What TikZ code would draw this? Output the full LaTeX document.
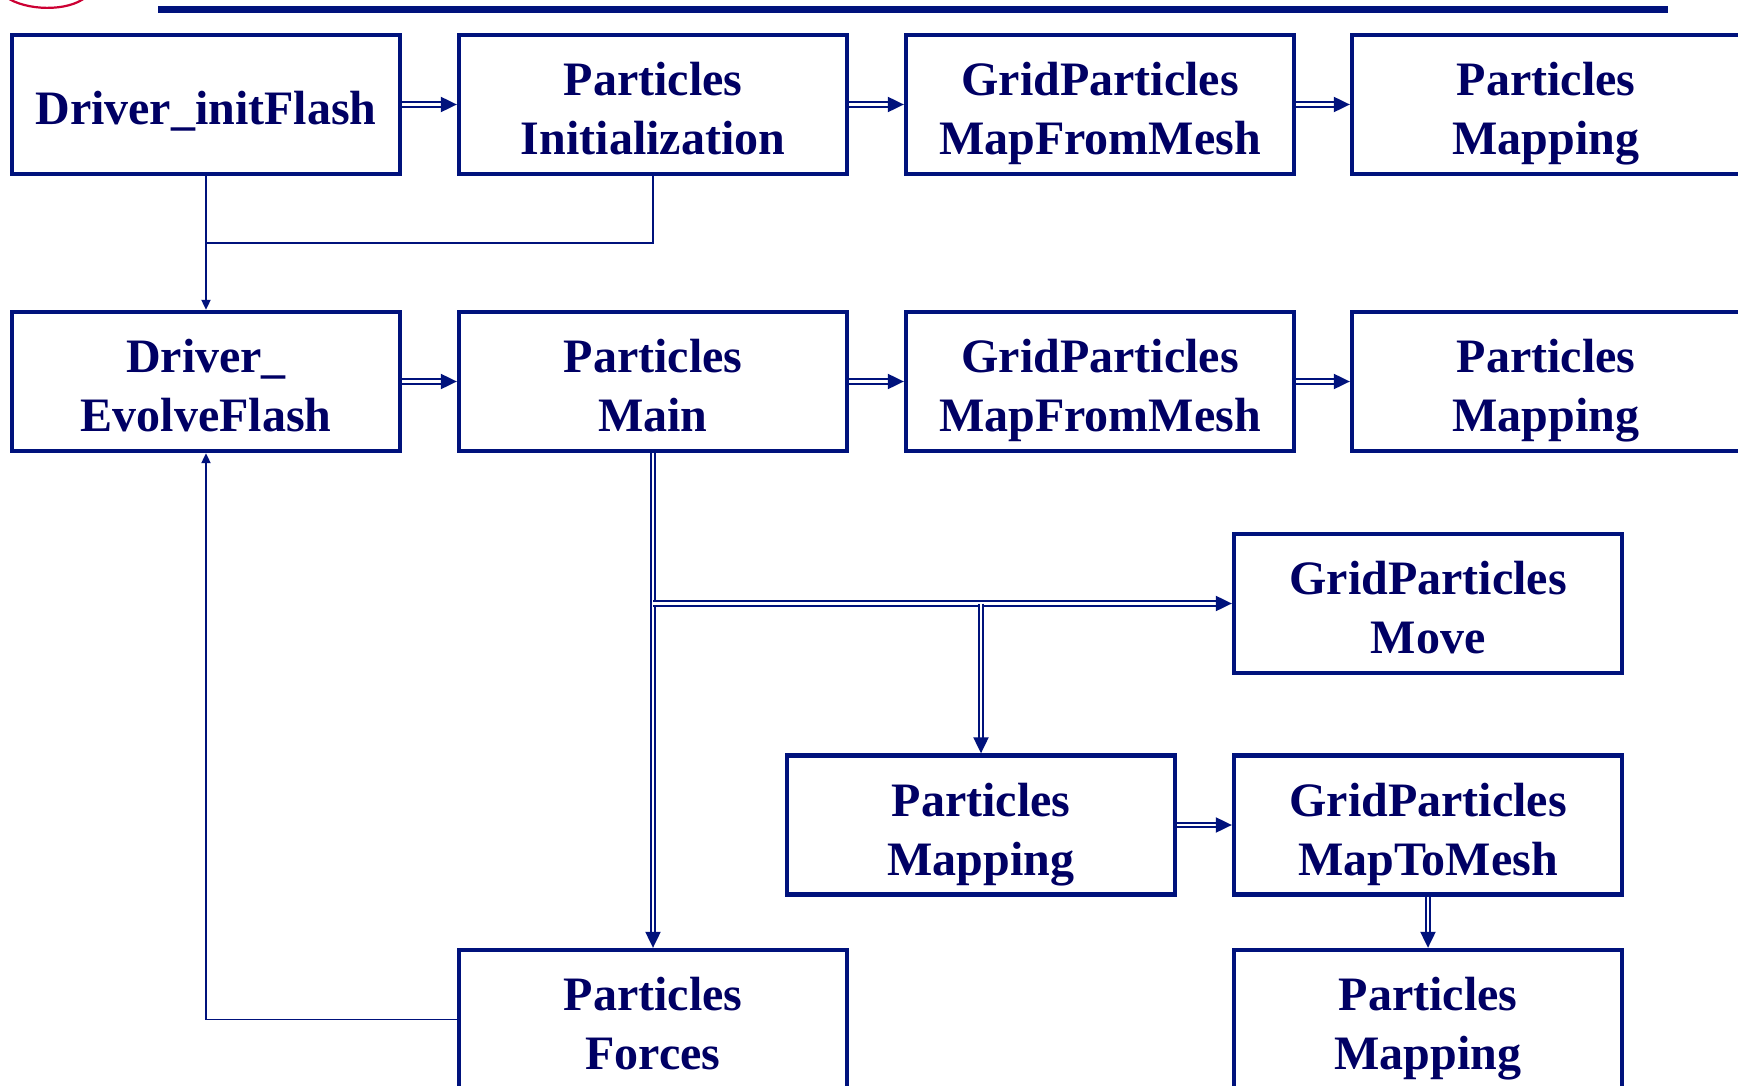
\documentclass[tikz,border=0pt]{standalone}
\usepackage{fontspec}
\setmainfont{Liberation Serif}
\usetikzlibrary{arrows.meta,calc}
\definecolor{navyline}{RGB}{0,18,124}
\definecolor{navytext}{RGB}{0,0,100}
\definecolor{redmark}{RGB}{204,0,51}
\tikzset{
  box/.style={draw=navyline, line width=4.3pt, minimum width=388pt, minimum height=139pt,
    inner sep=0pt, align=center, text=navytext, text height=110pt, text depth=10pt,
    font=\fontsize{48}{59}\selectfont\bfseries},
  onebox/.style={box, text height=41pt, text depth=0pt},
  dbl/.style={draw=navyline, double=white, double distance=2.8pt, line width=2pt,
    -{Triangle[length=16pt,width=15pt]}},
  sgl/.style={draw=navyline, line width=1.9pt},
  sglarrow/.style={sgl, -{Triangle[length=10pt,width=9pt]}}
}
\begin{document}
\begin{tikzpicture}[x=1pt,y=-1pt]
\useasboundingbox (0,0) rectangle (1738,1086);
\clip (0,0) rectangle (1738,1086);
\fill[white] (0,0) rectangle (1738,1086);
% decorations at top
\draw[redmark, line width=2.2pt] (6,-3) .. controls (26,11) and (68,12) .. (86,-3);
\draw[navyline, line width=7pt] (158,9.5) -- (1668,9.5);
% row 1
\node[onebox] (b1) at (206,104.5) {Driver\_initFlash};
\node[box] (b2) at (653,104.5) {Particles\\Initialization};
\node[box] (b3) at (1100,104.5) {GridParticles\\MapFromMesh};
\node[box] (b4) at (1546,104.5) {Particles\\Mapping};
% row 2
\node[box] (c1) at (206,381.5) {Driver\_\\EvolveFlash};
\node[box] (c2) at (653,381.5) {Particles\\Main};
\node[box] (c3) at (1100,381.5) {GridParticles\\MapFromMesh};
\node[box] (c4) at (1546,381.5) {Particles\\Mapping};
% row 3
\node[box] (gm) at (1428,603.5) {GridParticles\\Move};
% row 4
\node[box] (pm) at (981,825) {Particles\\Mapping};
\node[box] (mtm) at (1428,825) {GridParticles\\MapToMesh};
% row 5
\node[box] (pf) at (653,1019.5) {Particles\\Forces};
\node[box] (pm2) at (1428,1019.5) {Particles\\Mapping};
% connectors row 1
\draw[dbl] (b1) -- (b2);
\draw[dbl] (b2) -- (b3);
\draw[dbl] (b3) -- (b4);
\coordinate (k1) at (206,243);
\draw[sglarrow] (b1.south) -- (c1.north);
\draw[sgl] (b2.south) |- (k1);
% connectors row 2
\draw[dbl] (c1) -- (c2);
\draw[dbl] (c2) -- (c3);
\draw[dbl] (c3) -- (c4);
% branches
\coordinate (j1) at (c2.south |- gm.west);
\coordinate (j2) at (pm.north |- gm.west);
\draw[dbl] (c2.south) -- (pf.north);
\draw[dbl] (j1) -- (gm.west);
\draw[dbl] (j2) -- (pm.north);
\draw[dbl] (pm) -- (mtm);
\draw[dbl] (mtm) -- (pm2);
% feedback
\draw[sglarrow] (pf.west) -| (c1.south);
\end{tikzpicture}
\end{document}
